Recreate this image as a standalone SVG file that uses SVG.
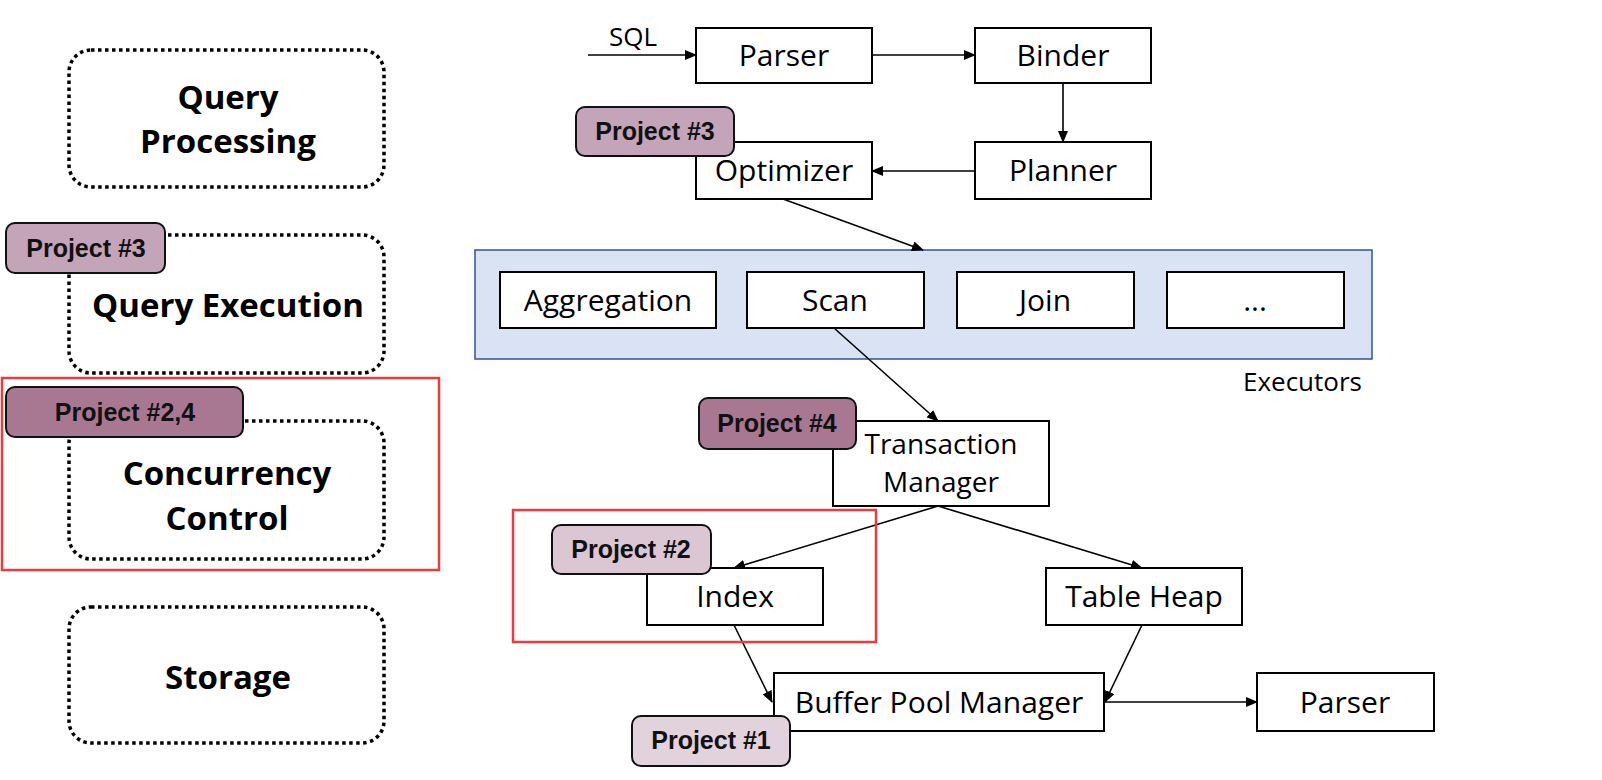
<svg xmlns="http://www.w3.org/2000/svg" width="1602" height="780" viewBox="0 0 1602 780">
<defs>
<marker id="ah" markerUnits="userSpaceOnUse" markerWidth="12" markerHeight="10" refX="11" refY="5" orient="auto">
<path d="M0,0 L12,5 L0,10 Z" fill="#000"/>
</marker>
<style>
.layer{fill:#fff;stroke:#000;stroke-width:3.5;stroke-dasharray:3.5 3.5}
.layer-t{font-family:"Open Sans","Noto Sans",sans-serif;font-weight:bold;font-size:33px;fill:#000;text-anchor:middle}
.box{fill:#fff;stroke:#000;stroke-width:2}
.box-t{font-family:"Open Sans","Noto Sans",sans-serif;font-size:30px;fill:#000;text-anchor:middle}
.box-t2{font-family:"Open Sans","Noto Sans",sans-serif;font-size:28px;fill:#000;text-anchor:middle}
.badge{stroke:#111;stroke-width:2}
.badge-t{font-family:"Liberation Sans",Arial,sans-serif;font-weight:bold;font-size:25px;fill:#111;text-anchor:middle}
.hl{fill:none;stroke:#ee3a3a;stroke-width:2.5}
.edge{fill:none;stroke:#000;stroke-width:1.6;marker-end:url(#ah)}
.lbl{font-family:"Open Sans","Noto Sans",sans-serif;font-size:26px;fill:#000}
</style>
</defs>
<rect width="1602" height="780" fill="#fff"/>

<!-- left layers -->
<g id="layer-query-processing">
<rect class="layer" x="69" y="50" width="315" height="137" rx="22"/>
<text class="layer-t" x="228" y="109">Query</text>
<text class="layer-t" x="228" y="153">Processing</text>
</g>
<g id="layer-query-execution">
<rect class="layer" x="69" y="235" width="315" height="138" rx="22"/>
<text class="layer-t" x="228" y="317">Query Execution</text>
</g>
<g id="layer-concurrency-control">
<rect class="layer" x="69" y="421" width="315" height="138" rx="22"/>
<text class="layer-t" x="227" y="485">Concurrency</text>
<text class="layer-t" x="227" y="530">Control</text>
</g>
<g id="layer-storage">
<rect class="layer" x="69" y="607" width="315" height="136" rx="22"/>
<text class="layer-t" x="228" y="689">Storage</text>
</g>
<g id="highlight-cc">
<rect class="hl" x="2" y="378" width="437" height="192"/>
</g>
<g id="badge-left-p3">
<rect class="badge" x="6" y="223" width="159" height="50" rx="9" fill="#c4a4b9"/>
<text class="badge-t" x="86" y="257">Project #3</text>
</g>
<g id="badge-left-p24">
<rect class="badge" x="6" y="387" width="237" height="50" rx="9" fill="#a87893"/>
<text class="badge-t" x="125" y="421">Project #2,4</text>
</g>

<!-- executors container -->
<g id="executors">
<rect x="475" y="250" width="897" height="109" fill="#dae3f3" stroke="#2f5597" stroke-width="1.5"/>
<text class="lbl" x="1243" y="391">Executors</text>
</g>

<!-- connectors -->
<g id="connectors">
<line class="edge" x1="588" y1="55" x2="696" y2="55"/>
<line class="edge" x1="872" y1="55" x2="975" y2="55"/>
<line class="edge" x1="1063" y1="83" x2="1063" y2="142"/>
<line class="edge" x1="975" y1="171" x2="872" y2="171"/>
<line class="edge" x1="783" y1="199" x2="923" y2="250"/>
<line class="edge" x1="834" y1="328" x2="938" y2="421"/>
<line class="edge" x1="938" y1="506" x2="734" y2="568"/>
<line class="edge" x1="938" y1="506" x2="1142" y2="568"/>
<line class="edge" x1="734" y1="625" x2="772" y2="702"/>
<line class="edge" x1="1142" y1="625" x2="1105" y2="702"/>
<line class="edge" x1="1104" y1="702" x2="1257" y2="702"/>
<text class="lbl" x="609" y="46">SQL</text>
</g>

<g id="parser">
<rect class="box" x="696" y="28" width="176" height="55"/>
<text class="box-t" x="784" y="66">Parser</text>
</g>
<g id="binder">
<rect class="box" x="975" y="28" width="176" height="55"/>
<text class="box-t" x="1063" y="66">Binder</text>
</g>
<g id="planner">
<rect class="box" x="975" y="142" width="176" height="57"/>
<text class="box-t" x="1063" y="181">Planner</text>
</g>
<g id="optimizer">
<rect class="box" x="696" y="142" width="176" height="57"/>
<text class="box-t" x="784" y="181">Optimizer</text>
</g>
<g id="aggregation">
<rect class="box" x="500" y="272" width="216" height="56"/>
<text class="box-t" x="608" y="311">Aggregation</text>
</g>
<g id="scan">
<rect class="box" x="747" y="272" width="177" height="56"/>
<text class="box-t" x="835" y="311">Scan</text>
</g>
<g id="join">
<rect class="box" x="957" y="272" width="177" height="56"/>
<text class="box-t" x="1045" y="311">Join</text>
</g>
<g id="more">
<rect class="box" x="1167" y="272" width="177" height="56"/>
<text class="box-t" x="1255" y="311">...</text>
</g>
<g id="transaction-manager">
<rect class="box" x="833" y="421" width="216" height="85"/>
<text class="box-t2" x="941" y="454">Transaction</text>
<text class="box-t2" x="941" y="492">Manager</text>
</g>
<g id="index">
<rect class="box" x="647" y="568" width="176" height="57"/>
<text class="box-t" x="735" y="607">Index</text>
</g>
<g id="table-heap">
<rect class="box" x="1046" y="568" width="196" height="57"/>
<text class="box-t" x="1144" y="607">Table Heap</text>
</g>
<g id="buffer-pool-manager">
<rect class="box" x="774" y="673" width="330" height="58"/>
<text class="box-t" x="939" y="713">Buffer Pool Manager</text>
</g>
<g id="parser-2">
<rect class="box" x="1257" y="673" width="177" height="58"/>
<text class="box-t" x="1345" y="713">Parser</text>
</g>

<g id="highlight-index">
<rect class="hl" x="513" y="510" width="363" height="132"/>
</g>

<g id="badge-p3">
<rect class="badge" x="576" y="107" width="158" height="49" rx="9" fill="#c4a4b9"/>
<text class="badge-t" x="655" y="140">Project #3</text>
</g>
<g id="badge-p4">
<rect class="badge" x="699" y="398" width="157" height="51" rx="9" fill="#a87893"/>
<text class="badge-t" x="777" y="432">Project #4</text>
</g>
<g id="badge-p2">
<rect class="badge" x="552" y="525" width="159" height="49" rx="9" fill="#dbc7d3"/>
<text class="badge-t" x="631" y="558">Project #2</text>
</g>
<g id="badge-p1">
<rect class="badge" x="632" y="716" width="158" height="50" rx="9" fill="#e1d2dc"/>
<text class="badge-t" x="711" y="749">Project #1</text>
</g>
</svg>
